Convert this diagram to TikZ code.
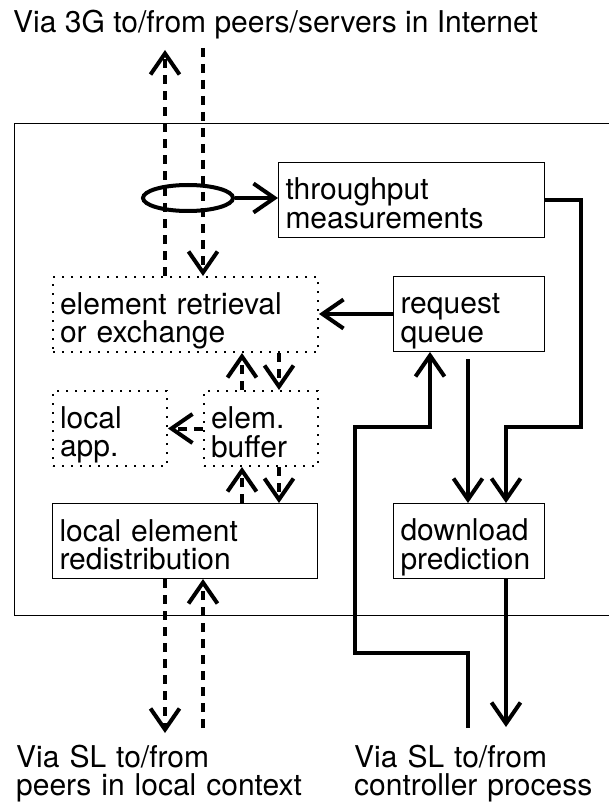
\documentclass[tikz,border=0pt]{standalone}
\usepackage{fontspec}
\setmainfont{TeX Gyre Heros}
\usetikzlibrary{arrows.meta,shapes.geometric}

% strut giving every text line the same height and depth
\newcommand\ls{\vrule width 0pt height 35pt depth 6.5pt\relax}

\begin{document}
\begin{tikzpicture}[x=1pt,y=-1pt,
  every node/.style={font=\fontsize{30}{28.5}\selectfont\lineskiplimit-100pt\relax, inner sep=0pt},
  blk/.style={draw, line width=1pt, anchor=north west, align=left,
    inner xsep=7pt, inner ysep=0pt, minimum height=75pt},
  dotblk/.style={blk, line width=2pt, dash pattern=on 2pt off 7pt},
  vtip/.style={-{Straight Barb[length=21pt,width=29pt,line width=4pt]}},
  fat/.style={line width=4pt, vtip},
  dsh/.style={line width=4pt, dash pattern=on 9pt off 7pt, vtip}]

\useasboundingbox (0,0) rectangle (609,802);

% the device
\draw[line width=1pt] (14,124) rectangle (640,615);

% functional blocks
\node[blk, minimum width=266pt, text width=252pt] (tm) at (278,162) {\ls throughput\\\ls measurements};
\node[dotblk, minimum width=265pt, text width=251pt] (er) at (52,276) {\ls element retrieval\\\ls or exchange};
\node[blk, minimum width=151pt, text width=137pt] (rq) at (393,276) {\ls request\\\ls queue};
\node[dotblk, minimum width=114pt, text width=100pt] (la) at (52,390) {\ls local\\\ls app.};
\node[dotblk, minimum width=114pt, text width=100pt] (eb) at (203,390) {\ls elem.\\\ls buffer};
\node[blk, minimum width=265pt, text width=251pt] (ld) at (52,503) {\ls local element\\\ls redistribution};
\node[blk, minimum width=151pt, text width=137pt] (dp) at (393,503) {\ls download\\\ls prediction};

% tap on the 3G link
\node[ellipse, draw, line width=4pt, minimum width=90pt, minimum height=26pt] (el) at (188,198) {};

% external endpoints
\node[anchor=base west] (title) at (13,33) {Via 3G to/from peers/servers in Internet};
\node[anchor=north west, align=left, text width=300pt] (lp) at (16,732) {\ls Via SL to/from\\\ls peers in local context};
\node[anchor=north west, align=left, text width=250pt] (cp) at (354,732) {\ls Via SL to/from\\\ls controller process};

% helper points for the connectors
\coordinate (ta) at (165,50);
\coordinate (tb) at (203,48);
\coordinate (xa) at (242,0);
\coordinate (xb) at (279,0);
\coordinate (ba) at (165,733);
\coordinate (bb) at (203,728);
\coordinate (q0) at (468,359);
\coordinate (rbend) at (581,427);
\coordinate (xo) at (506,0);
\coordinate (bo) at (506,727);
\coordinate (c0) at (468,728);
\coordinate (c1) at (355,653);
\coordinate (c2) at (430,427);

% 3G link
\draw[dsh] (er.north -| ta) -- (ta);
\draw[dsh] (tb) -- (tb |- er.north);
\draw[fat] (el.east) -- (el.east -| tm.west);

% element flow inside the device
\draw[fat] (rq.west) -- (rq.west -| er.east);
\draw[dsh] (eb.north -| xa) -- (er.south -| xa);
\draw[dsh] (er.south -| xb) -- (eb.north -| xb);
\draw[dsh] (eb.west) -- (la.east);
\draw[dsh] (ld.north -| xa) -- (eb.south -| xa);
\draw[dsh] (eb.south -| xb) -- (ld.north -| xb);

% SL link to local peers
\draw[dsh] (ld.south -| ba) -- (ba);
\draw[dsh] (bb) -- (bb |- ld.south);

% control path
\draw[fat] (tm.east) -| (rbend) -| (dp.north -| xo);
\draw[fat] (q0) -- (q0 |- dp.north);
\draw[fat] (c0) |- (c1) |- (c2) -- (c2 |- rq.south);
\draw[fat] (dp.south -| xo) -- (bo);

\end{tikzpicture}
\end{document}
